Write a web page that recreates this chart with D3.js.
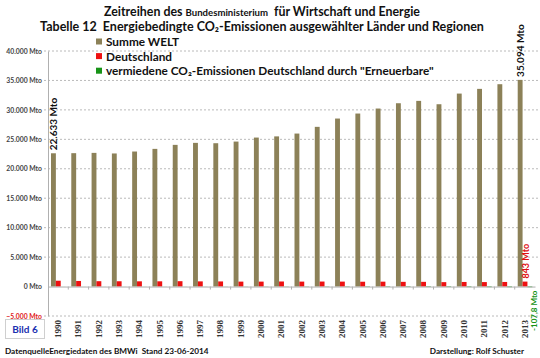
<!DOCTYPE html>
<html><head><meta charset="utf-8">
<script src="https://cdn.jsdelivr.net/npm/d3@7"></script>
<style>body{margin:0;background:#fff}svg{display:block}</style>
</head><body>
<svg id="c" width="540" height="358"></svg>
<script>
const years = ["1990","1991","1992","1993","1994","1995","1996","1997","1998","1999","2000","2001","2002","2003","2004","2005","2006","2007","2008","2009","2010","2011","2012","2013"];
const welt = [22633,22650,22700,22600,22930,23380,24060,24400,24340,24620,25300,25500,25980,27120,28530,29380,30230,31130,31530,30960,32770,33570,34360,35094];
const deutschland = [990,950,910,900,890,890,910,880,870,840,840,860,840,850,840,820,830,800,800,750,780,760,780,843];
const vermiedene = [-10,-10,-10,-11,-12,-14,-15,-16,-18,-20,-25,-28,-33,-40,-48,-55,-62,-70,-78,-80,-90,-96,-102,-107.8];
const yTicks = [40000,35000,30000,25000,20000,15000,10000,5000,0,-5000];
const seriesNames = ["Summe WELT","Deutschland","vermiedene CO\u2082-Emissionen Deutschland durch \"Erneuerbare\""];
const colors = ["#8c8158","#ee1111","#179317"];

const svg = d3.select("#c");
const fmt = v => d3.format(",")(v).replace(/,/g,".") + " Mto";

const x = d3.scaleBand().domain(years).range([48, 535]);
const y = d3.scaleLinear().domain([-5000, 40000]).range([316, 51]);
const sub = d3.scaleBand().domain([0,1,2]).range([3, 17.6]);

// gridlines
svg.append("g").selectAll("line").data(yTicks.filter(d=>d!==0)).join("line")
  .attr("x1",44).attr("x2",540).attr("y1",d=>y(d)).attr("y2",d=>y(d))
  .attr("stroke","#a8a8a8").attr("stroke-width",0.8).attr("stroke-dasharray","2,2");

// y axis
const yAxis = svg.append("g").attr("transform","translate(48,0)")
  .call(d3.axisLeft(y).tickValues(yTicks).tickSize(0).tickPadding(6).tickFormat(fmt));
yAxis.select(".domain").attr("stroke","#b0b0b0");
yAxis.selectAll("text").attr("font-family","Lato").attr("font-weight","bold").attr("font-size","6.8px")
  .attr("fill",d=>d<0?"#e02020":"#444");

// bars
const groups = [welt, deutschland, vermiedene];
groups.forEach((arr,si)=>{
  svg.append("g").selectAll("rect").data(arr).join("rect")
    .attr("x",(d,i)=>x(years[i])+sub(si))
    .attr("width",sub.bandwidth())
    .attr("y",d=>y(Math.max(0,d)))
    .attr("height",d=>Math.abs(y(d)-y(0)))
    .attr("fill",colors[si]);
});

// x axis
const xAxis = svg.append("g").attr("transform",`translate(0,${y(0)})`)
  .call(d3.axisBottom(x).tickSize(0).tickFormat(""));
xAxis.select(".domain").attr("stroke","#b0b0b0");
svg.append("g").selectAll("line").data(years.slice(1)).join("line")
  .attr("x1",d=>x(d)).attr("x2",d=>x(d)).attr("y1",y(0)).attr("y2",y(0)+3)
  .attr("stroke","#b0b0b0");

// year labels
svg.append("g").selectAll("text").data(years).join("text")
  .attr("transform",d=>`translate(${x(d)+x.bandwidth()/2+3},320) rotate(-90)`)
  .attr("text-anchor","end")
  .attr("font-family","Liberation Serif").attr("font-weight","bold").attr("font-size","9px")
  .attr("fill","#333").text(d=>d);

// value labels
function vlabel(xp, yp, txt, col, size, anchor){
  svg.append("text").attr("transform",`translate(${xp},${yp}) rotate(-90)`)
    .attr("text-anchor",anchor).attr("font-family","Lato").attr("font-weight","bold")
    .attr("font-size",size).attr("fill",col).text(txt);
}
vlabel(x(years[0])+sub(0)+sub.bandwidth()/2+3.5, y(welt[0])-3, fmt(welt[0]), "#111", "10px","start");
const L = years.length-1;
vlabel(x(years[L])+sub(0)+sub.bandwidth()/2+3.5, y(welt[L])-3, fmt(welt[L]), "#111", "10px","start");
vlabel(x(years[L])+sub(1)+sub.bandwidth()/2+3.5, y(deutschland[L])-3, deutschland[L]+" Mto", "#e01010", "9px","start");
vlabel(x(years[L])+sub(2)+sub.bandwidth()/2+7, y(0)+4, String(vermiedene[L]).replace(".",",")+" Mto", "#179317", "8px","end");

// titles
const t1 = svg.append("text").attr("x",262).attr("y",16).attr("text-anchor","middle")
  .attr("font-family","Lato").attr("font-weight","bold").attr("font-size","12.4px").attr("fill","#111");
t1.append("tspan").text("Zeitreihen des ");
t1.append("tspan").attr("font-size","9.6px").text("Bundesministerium");
t1.append("tspan").text("\u00a0 für Wirtschaft und Energie");
svg.append("text").attr("x",262).attr("y",31).attr("text-anchor","middle")
  .attr("font-family","Lato").attr("font-weight","bold").attr("font-size","12.5px").attr("fill","#111")
  .text("Tabelle 12\u00a0 Energiebedingte CO\u2082-Emissionen ausgewählter Länder und Regionen");

// legend
const lg = svg.append("g");
seriesNames.forEach((n,i)=>{
  lg.append("rect").attr("x",96).attr("y",38.5+i*14.6).attr("width",6).attr("height",6).attr("fill",colors[i]);
  lg.append("text").attr("x",106).attr("y",46+i*14.6).attr("font-family","Lato").attr("font-weight","bold")
    .attr("font-size","11.8px").attr("fill","#111").text(n);
});

// Bild 6 box
svg.append("rect").attr("x",5.5).attr("y",319.5).attr("width",39).attr("height",19)
  .attr("fill","#fff").attr("stroke","#cfcfcf");
svg.append("text").attr("x",25).attr("y",333).attr("text-anchor","middle")
  .attr("font-family","Lato").attr("font-weight","bold").attr("font-size","10px").attr("fill","#1a2fb0").text("Bild 6");

// footer
svg.append("text").attr("x",5).attr("y",354).attr("font-family","Lato").attr("font-weight","bold")
  .attr("font-size","8.2px").attr("fill","#111").text("DatenquelleEnergiedaten des BMWi\u00a0 Stand 23-06-2014");
svg.append("text").attr("x",524).attr("y",354).attr("text-anchor","end").attr("font-family","Lato").attr("font-weight","bold")
  .attr("font-size","8.2px").attr("fill","#111").text("Darstellung: Rolf Schuster");
</script>
</body></html>
